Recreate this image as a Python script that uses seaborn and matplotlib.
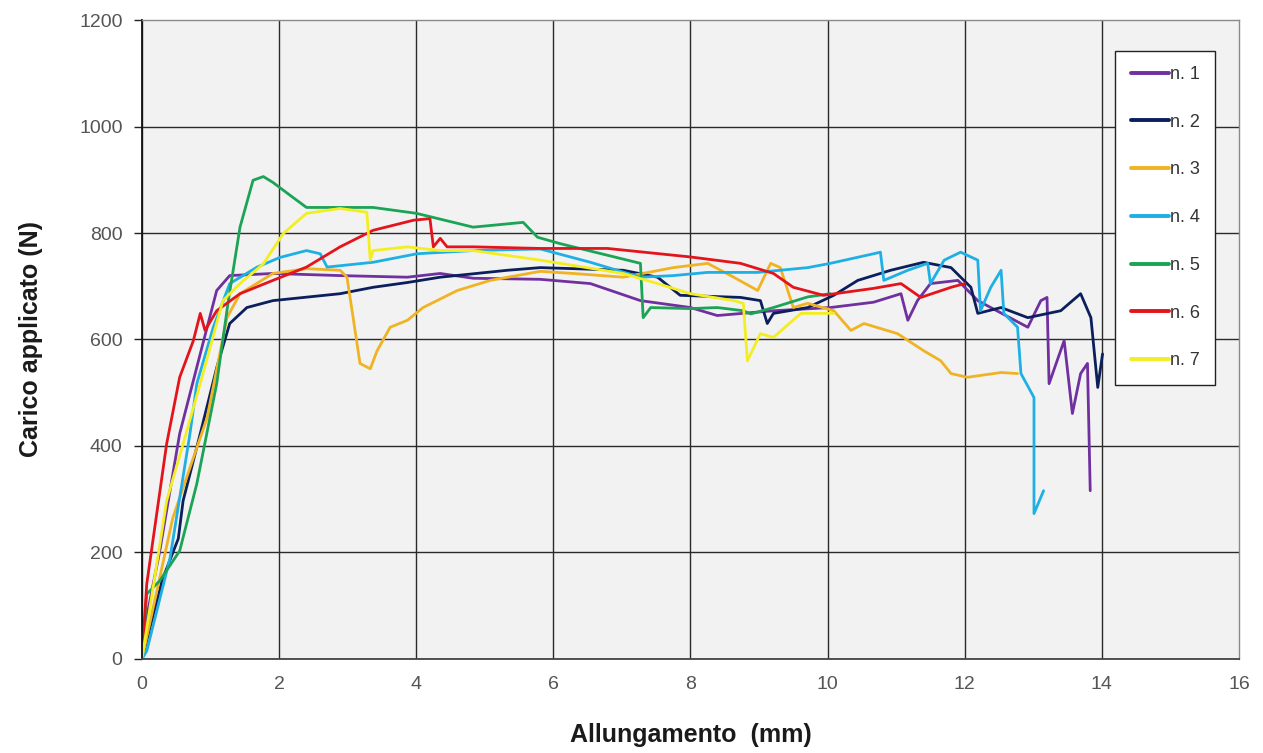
import matplotlib

matplotlib.use("Agg")
import matplotlib.pyplot as plt
import pandas as pd
import seaborn as sns

# elongation (mm) / load (N), one pair of lists per specimen
x1 = [0, 0.02, 0.26, 0.55, 0.85, 1.09, 1.28, 1.91, 2.89, 3.87, 4.35, 4.83, 5.81, 6.54, 7.27,
      8.0, 8.39, 9.21, 10.04, 10.67, 11.07, 11.17, 11.31, 11.5, 11.9, 12.19, 12.92, 13.11,
      13.2, 13.23, 13.45, 13.57, 13.69, 13.79, 13.83]
y1 = [0, 47, 203, 423, 573, 692, 720, 724, 720, 717, 724, 715, 713, 705, 673,
      660, 645, 654, 660, 670, 686, 636, 673, 705, 711, 673, 623, 673,
      679, 517, 598, 461, 536, 555, 316]

x2 = [0, 0.3, 0.53, 0.6, 0.85, 1.09, 1.28, 1.53, 1.91, 2.89, 3.37, 3.87, 4.35, 5.33, 5.81,
      7.02, 7.52, 7.85, 8.73, 9.02, 9.12, 9.21, 9.71, 10.09, 10.44, 10.92, 11.4, 11.8,
      12.09, 12.19, 12.53, 12.92, 13.4, 13.69, 13.84, 13.94, 14.01]
y2 = [0, 150, 226, 297, 423, 547, 630, 660, 673, 686, 698, 707, 717, 730, 735,
      730, 717, 683, 679, 673, 630, 649, 660, 683, 711, 730, 745, 735,
      698, 649, 660, 641, 654, 686, 641, 510, 573]

x3 = [0, 0.45, 0.95, 1.24, 1.43, 1.91, 2.4, 2.89, 2.99, 3.08, 3.18, 3.33, 3.43, 3.62, 3.87,
      4.1, 4.6, 5.08, 5.81, 6.29, 7.02, 7.75, 8.25, 8.63, 8.98, 9.17, 9.31, 9.5, 9.71,
      10.09, 10.34, 10.53, 11.02, 11.4, 11.65, 11.8, 12.04, 12.53, 12.77]
y3 = [0, 265, 453, 641, 686, 724, 733, 730, 717, 641, 555, 545, 579, 623, 636,
      660, 692, 711, 728, 724, 717, 735, 743, 717, 692, 743, 735, 660, 668,
      654, 617, 630, 611, 579, 560, 536, 529, 538, 536]

x4 = [0, 0.07, 0.41, 0.7, 0.8, 1.04, 1.28, 1.68, 2.01, 2.4, 2.6, 2.7, 3.37, 4.01, 4.83,
      5.81, 6.54, 7.27, 7.75, 8.25, 8.98, 9.71, 10.04, 10.67, 10.77, 10.82, 11.17, 11.46,
      11.5, 11.7, 11.94, 12.19, 12.23, 12.38, 12.53, 12.57, 12.77, 12.82, 13.01, 13.01, 13.15]
y4 = [0, 15, 190, 423, 517, 623, 705, 736, 754, 767, 761, 736, 745, 761, 767,
      770, 745, 717, 720, 726, 726, 735, 743, 761, 764, 711, 730, 743,
      705, 749, 764, 749, 654, 698, 730, 649, 623, 536, 491, 273, 316]

x5 = [0, 0.07, 0.26, 0.55, 0.8, 1.09, 1.26, 1.43, 1.62, 1.77, 1.91, 2.2, 2.4, 3.37, 4.0,
      4.83, 5.56, 5.77, 6.1, 7.27, 7.31, 7.42, 8.0, 8.39, 8.77, 8.88, 9.21, 9.71, 10.04]
y5 = [0, 122, 147, 203, 329, 517, 673, 811, 899, 906, 895, 867, 848, 848, 837,
      811, 820, 792, 780, 743, 641, 660, 658, 660, 654, 648, 660, 680, 686]

x6 = [0, 0.07, 0.36, 0.55, 0.75, 0.85, 0.92, 1.09, 1.43, 1.91, 2.4, 2.89, 3.37, 3.96, 4.2,
      4.25, 4.35, 4.45, 4.83, 5.81, 6.79, 8.0, 8.73, 9.21, 9.5, 9.94, 10.67, 11.07,
      11.36, 11.8, 12.0]
y6 = [0, 141, 404, 529, 598, 649, 617, 654, 686, 711, 736, 774, 805, 824, 827,
      774, 790, 774, 774, 771, 771, 755, 743, 724, 698, 683, 696, 705,
      679, 698, 705]

x7 = [0, 0.36, 0.6, 0.85, 1.18, 1.43, 1.77, 2.06, 2.4, 2.89, 3.28, 3.33, 3.37, 3.87, 4.35,
      4.83, 5.81, 7.02, 7.52, 8.0, 8.63, 8.77, 8.83, 9.02, 9.21, 9.61, 10.09]
y7 = [0, 297, 404, 517, 673, 705, 742, 799, 837, 846, 839, 749, 767, 774, 767,
      767, 749, 724, 705, 686, 673, 668, 560, 611, 604, 649, 649]

labels = ["n. 1", "n. 2", "n. 3", "n. 4", "n. 5", "n. 6", "n. 7"]
colors = ["#7030A0", "#0B1F5C", "#F0B323", "#1EB0E4", "#1BA356", "#E3141B", "#F2EE22"]

series = [(x1, y1), (x2, y2), (x3, y3), (x4, y4), (x5, y5), (x6, y6), (x7, y7)]
frames = []
for lab, (xs, ys) in zip(labels, series):
    frames.append(pd.DataFrame({"x": xs, "y": ys, "prova": lab}))
df = pd.concat(frames, ignore_index=True)

sns.set_theme(style="white")
plt.rcParams["font.family"] = ["Liberation Sans", "DejaVu Sans"]

fig = plt.figure(figsize=(12.63, 7.53), dpi=100)
ax = fig.add_axes([0.1124, 0.1249, 0.8686, 0.8485])
ax.set_facecolor("#F2F2F2")

sns.lineplot(data=df, x="x", y="y", hue="prova", palette=colors, hue_order=labels,
             estimator=None, sort=False, linewidth=2.0, ax=ax)

ax.set_xlim(0, 16)
ax.set_ylim(0, 1200)
ax.set_xticks(range(0, 17, 2))
ax.set_yticks(range(0, 1201, 200))
ax.grid(True, color="#2a2a2a", linewidth=1.0)
ax.set_axisbelow(True)
# outer frame lines are grey in the original, so hide the grid where it meets them
ax.yaxis.get_gridlines()[-1].set_visible(False)
ax.xaxis.get_gridlines()[-1].set_visible(False)
for side in ["top", "right"]:
    ax.spines[side].set_color("#8a8a8a")
    ax.spines[side].set_linewidth(1.0)
ax.spines["left"].set_color("#111111")
ax.spines["bottom"].set_color("#444444")
ax.spines["left"].set_linewidth(1.3)
ax.spines["bottom"].set_linewidth(1.3)
ax.tick_params(axis="y", labelsize=14, colors="#555555", length=6, width=1.0,
               left=True, pad=8)
ax.tick_params(axis="y", color="#222222")
ax.tick_params(axis="x", labelsize=14, colors="#555555", length=0, pad=12)

ax.set_xlabel("Allungamento  (mm)", fontsize=18, fontweight="bold", color="#1a1a1a", labelpad=22)
ax.set_ylabel("Carico applicato (N)", fontsize=18, fontweight="bold", color="#1a1a1a", labelpad=26)

leg = ax.legend(loc="upper right", bbox_to_anchor=(0.978, 0.952), fontsize=13,
                handlelength=2.1, handletextpad=0.05, labelspacing=1.7,
                borderpad=0.85, borderaxespad=0.0, fancybox=False, framealpha=1.0,
                edgecolor="#222222")
leg.get_frame().set_linewidth(1.0)
for text in leg.get_texts():
    text.set_color("#333333")
for line in leg.get_lines():
    line.set_linewidth(2.8)

fig.savefig("out.png", dpi=100)
